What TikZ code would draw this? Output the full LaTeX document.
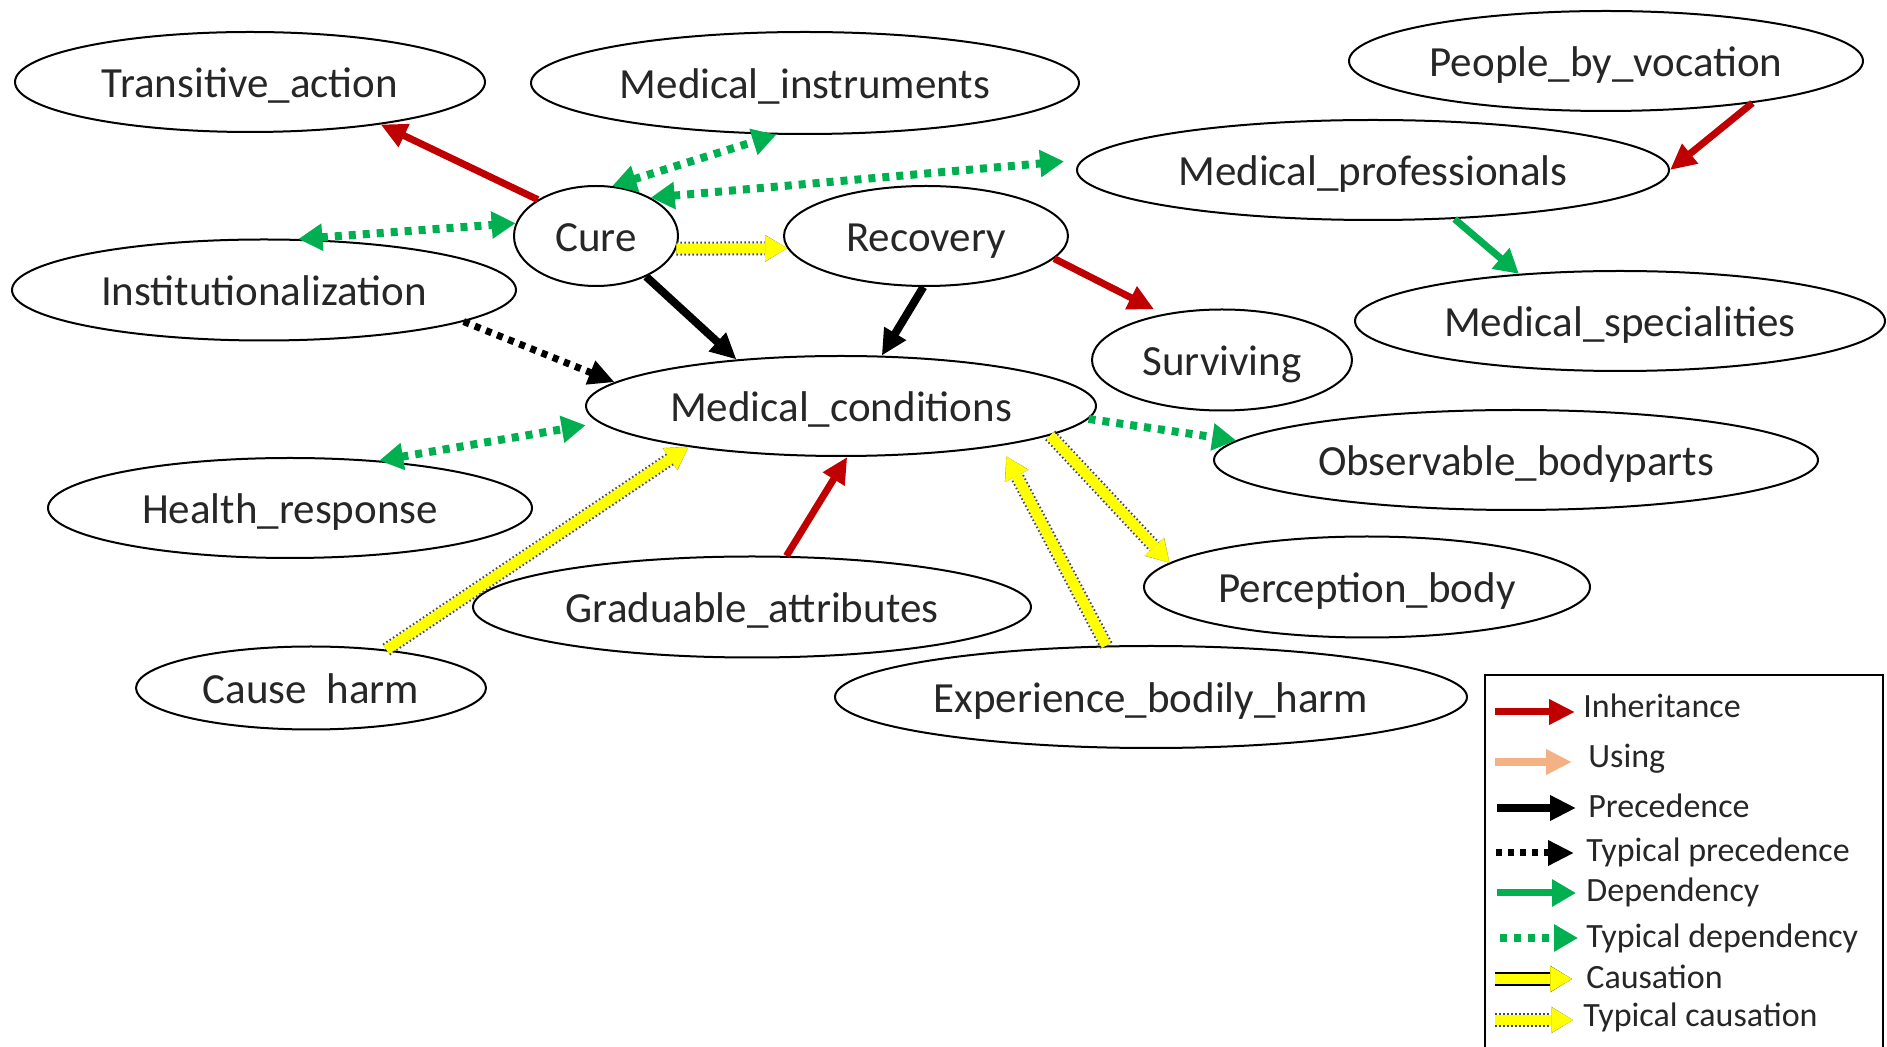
\documentclass[tikz,border=0pt]{standalone}
\usepackage{fontspec}
\setmainfont{Carlito}
\usepackage{tikz}
\usetikzlibrary{shapes.geometric,arrows.meta}
\definecolor{inhred}{HTML}{C00000}
\definecolor{depgreen}{HTML}{00B050}
\definecolor{causeyellow}{HTML}{FFFF00}
\definecolor{usepeach}{HTML}{F4B183}

\begin{document}
\begin{tikzpicture}[x=0.5pt,y=-0.5pt,
  rtip/.tip={Triangle[length=13pt,width=12pt]},
  gtip/.tip={Triangle[length=12pt,width=13pt]},
  ytipin/.tip={Triangle[length=11pt,width=13pt,line width=0.3pt,fill=causeyellow]},
  ytipout/.tip={Triangle[length=11pt,width=13pt,line width=1.4pt]},
  frame/.style={ellipse,draw,line width=1pt,inner sep=0pt,text=black!85,
    text height=18pt,text depth=2pt,font=\fontsize{21.5}{26}\selectfont},
  legtext/.style={anchor=base west,inner sep=0pt,text=black!85,font=\fontsize{17}{20}\selectfont},
  inherit/.style={draw=inhred,line width=3.5pt,-rtip},
  using/.style={draw=usepeach,line width=4pt,-rtip},
  prec/.style={draw=black,line width=4pt,-rtip},
  tprec/.style={draw=black,line width=3.5pt,dash pattern=on 3pt off 3pt,-rtip},
  dep/.style={draw=depgreen,line width=3.5pt,-gtip},
  tdep/.style={draw=depgreen,line width=4pt,dash pattern=on 3.5pt off 3.5pt,-gtip},
  cause/.style={draw=causeyellow,line width=5pt,-ytipin,
    preaction={draw=black,line width=7pt,-ytipout}},
  tcause/.style={draw=causeyellow,line width=5pt,-ytipin,
    preaction={draw=black!70,line width=7pt,dash pattern=on 0.8pt off 1.2pt,-ytipout}}]
\useasboundingbox (0,0) rectangle (1887,1047);

\node[frame,minimum width=235pt,minimum height=50pt] (trans) at (250,82) {Transitive\_action};
\node[frame,minimum width=274pt,minimum height=51pt] (minst) at (805,83) {Medical\_instruments};
\node[frame,minimum width=257pt,minimum height=50pt] (people) at (1606,61) {People\_by\_vocation};
\node[frame,minimum width=296pt,minimum height=50pt] (mprof) at (1373,170) {Medical\_professionals};
\node[frame,minimum width=82pt,minimum height=50pt] (cure) at (596,236) {Cure};
\node[frame,minimum width=142pt,minimum height=50pt] (rec) at (926,236) {Recovery};
\node[frame,minimum width=252pt,minimum height=50.5pt] (inst) at (264,290) {Institutionalization};
\node[frame,minimum width=265pt,minimum height=50pt] (mspec) at (1620,321) {Medical\_specialities};
\node[frame,minimum width=130pt,minimum height=50.5pt] (surv) at (1222,360) {Surviving};
\node[frame,minimum width=255pt,minimum height=50pt] (mcond) at (841,406) {Medical\_conditions};
\node[frame,minimum width=302pt,minimum height=50pt] (obs) at (1516,460) {Observable\_bodyparts};
\node[frame,minimum width=242pt,minimum height=50pt] (hresp) at (290,508) {Health\_response};
\node[frame,minimum width=223pt,minimum height=50.5pt] (perc) at (1367,587) {Perception\_body};
\node[frame,minimum width=279pt,minimum height=50.5pt] (grad) at (752,607) {Graduable\_attributes};
\node[frame,minimum width=175pt,minimum height=41.5pt] (charm) at (311,688) {Cause\ \ harm};
\node[frame,minimum width=316pt,minimum height=51pt] (exp) at (1151,697) {Experience\_bodily\_harm};

\draw[inherit] (cure.148) -- (trans.-18);
\draw[tdep,gtip-gtip] (cure.72) -- (minst.-119);
\draw[tdep,gtip-gtip,shorten >=9pt] (cure.35) -- (mprof.178);
\draw[tdep,gtip-gtip] (inst.56) -- (cure.171);
\draw[tcause] (cure.-9) -- (rec.185);
\draw[prec] (cure.-39) -- (mcond.156);
\draw[prec] (rec.-93) -- (mcond.51);
\draw[inherit,shorten >=5pt] (rec.-10) -- (surv.142);
\draw[inherit] (people.-16) -- (mprof.0);
\draw[dep] (mprof.-31) -- (mspec.155);
\draw[tprec] (inst.-9) -- (mcond.174);
\draw[tdep,gtip-gtip,shorten >=7pt] (hresp.28) -- (mcond.184);
\draw[tdep] (mcond.-3) -- (obs.176);
\draw[tcause] (charm.27) -- (mcond.195);
\draw[inherit] (grad.56) -- (mcond.-83);
\draw[tcause,shorten >=6pt] (exp.131) -- (mcond.-14);
\draw[tcause] (mcond.-8) -- (perc.173);

\draw[line width=1pt] (1485,1047) |- (1883,675) -- (1883,1047);
\coordinate (k1) at (1495,712); \node[legtext] (t1) at (1583,718) {Inheritance};
\coordinate (k2) at (1495,762); \node[legtext] (t2) at (1588,768) {Using};
\coordinate (k3) at (1497,808); \node[legtext] (t3) at (1588,818) {Precedence};
\coordinate (k4) at (1496,853); \node[legtext] (t4) at (1586,862) {Typical precedence};
\coordinate (k5) at (1497,893); \node[legtext] (t5) at (1586,902) {Dependency};
\coordinate (k6) at (1500,938); \node[legtext] (t6) at (1586,948) {Typical dependency};
\coordinate (k7) at (1495,979); \node[legtext] (t7) at (1586,989) {Causation};
\coordinate (k8) at (1495,1020); \node[legtext] (t8) at (1583,1027) {Typical causation};
\draw[inherit,shorten >=4pt] (k1) -- (k1 -| t1.west);
\draw[using,shorten >=8pt] (k2) -- (k2 -| t2.west);
\draw[prec,shorten >=6pt] (k3) -- (k3 -| t3.west);
\draw[tprec,shorten >=6pt] (k4) -- (k4 -| t4.west);
\draw[dep,shorten >=5pt] (k5) -- (k5 -| t5.west);
\draw[tdep,shorten >=4pt] (k6) -- (k6 -| t6.west);
\draw[cause,shorten >=7pt] (k7) -- (k7 -| t7.west);
\draw[tcause,shorten >=5pt] (k8) -- (k8 -| t8.west);
\end{tikzpicture}
\end{document}
